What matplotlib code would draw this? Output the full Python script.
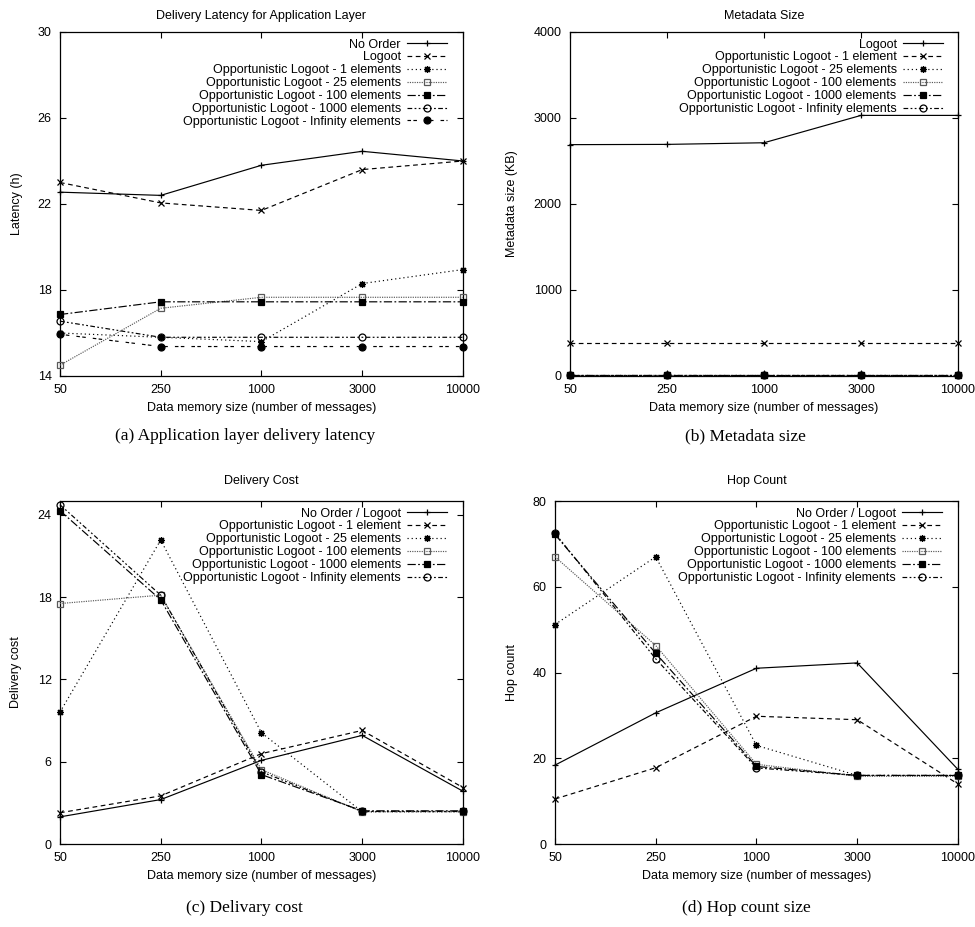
import matplotlib.pyplot as plt

plt.rcParams['font.family'] = ['Liberation Sans', 'DejaVu Sans']
plt.rcParams['font.size'] = 9

memory_sizes = ['50', '250', '1000', '3000', '10000']

# (a) delivery latency, hours
lat_labels = ['No Order', 'Logoot',
              'Opportunistic Logoot - 1 elements',
              'Opportunistic Logoot - 25 elements',
              'Opportunistic Logoot - 100 elements',
              'Opportunistic Logoot - 1000 elements',
              'Opportunistic Logoot - Infinity elements']
lat_no_order = [22.55, 22.4, 23.8, 24.45, 24.0]
lat_logoot = [23.0, 22.05, 21.7, 23.6, 24.0]
lat_ol_1 = [16.0, 15.8, 15.6, 18.3, 18.95]
lat_ol_25 = [14.5, 17.15, 17.66, 17.66, 17.66]
lat_ol_100 = [16.86, 17.45, 17.45, 17.45, 17.45]
lat_ol_1000 = [16.55, 15.8, 15.8, 15.8, 15.8]
lat_ol_inf = [15.94, 15.37, 15.37, 15.37, 15.37]

# (b) metadata size, KB
meta_labels = ['Logoot',
               'Opportunistic Logoot - 1 element',
               'Opportunistic Logoot - 25 elements',
               'Opportunistic Logoot - 100 elements',
               'Opportunistic Logoot - 1000 elements',
               'Opportunistic Logoot - Infinity elements']
meta_logoot = [2690, 2693, 2712, 3030, 3030]
meta_ol_1 = [380, 380, 380, 380, 380]
meta_ol_25 = [8, 8, 8, 8, 8]
meta_ol_100 = [12, 12, 12, 12, 12]
meta_ol_1000 = [16, 16, 16, 16, 16]
meta_ol_inf = [14, 14, 14, 14, 14]

# (c) delivery cost
other_labels = ['No Order / Logoot',
                'Opportunistic Logoot - 1 element',
                'Opportunistic Logoot - 25 elements',
                'Opportunistic Logoot - 100 elements',
                'Opportunistic Logoot - 1000 elements',
                'Opportunistic Logoot - Infinity elements']
cost_logoot = [1.98, 3.24, 6.1, 7.92, 3.85]
cost_ol_1 = [2.28, 3.51, 6.59, 8.28, 4.12]
cost_ol_25 = [9.61, 22.16, 8.11, 2.35, 2.35]
cost_ol_100 = [17.53, 18.14, 5.42, 2.35, 2.35]
cost_ol_1000 = [24.3, 17.8, 5.06, 2.42, 2.42]
cost_ol_inf = [24.73, 18.14, 5.26, 2.38, 2.38]

# (d) hop count
hop_logoot = [18.4, 30.6, 41.0, 42.25, 17.4]
hop_ol_1 = [10.5, 17.8, 29.8, 29.0, 14.0]
hop_ol_25 = [51.2, 67.0, 23.0, 16.0, 16.0]
hop_ol_100 = [67.0, 46.3, 18.6, 15.8, 15.8]
hop_ol_1000 = [72.2, 44.5, 18.1, 16.0, 16.0]
hop_ol_inf = [72.5, 43.2, 17.75, 16.0, 16.0]

# gnuplot-like line types: (linestyle, marker, filled, colour)
styles = [
    ('-', '+', True, 'black'),
    ((0, (4, 3)), 'x', True, 'black'),
    ((0, (1, 2.5)), (8, 2, 0), True, 'black'),
    ((0, (1, 1)), 's', False, '0.35'),
    ((0, (7, 2, 1.5, 2)), 's', True, 'black'),
    ((0, (4, 2, 1.5, 2, 1.5, 2)), 'o', False, 'black'),
    ((0, (3, 2, 3, 6)), 'o', True, 'black'),
]

fig = plt.figure(figsize=(9.75, 9.27), dpi=100)

panels = [
    ([0.0615, 0.5944, 0.4133, 0.3711], 'Delivery Latency for Application Layer', 'Latency (h)',
     lat_labels, [lat_no_order, lat_logoot, lat_ol_1, lat_ol_25, lat_ol_100, lat_ol_1000, lat_ol_inf],
     (14, 30), [14, 18, 22, 26, 30], -0.092, 9),
    ([0.5846, 0.5944, 0.398, 0.3711], 'Metadata Size', 'Metadata size (KB)',
     meta_labels, [meta_logoot, meta_ol_1, meta_ol_25, meta_ol_100, meta_ol_1000, meta_ol_inf],
     (0, 4000), [0, 1000, 2000, 3000, 4000], -0.134, 9),
    ([0.0615, 0.0895, 0.4133, 0.370], 'Delivery Cost', 'Delivery cost',
     other_labels, [cost_logoot, cost_ol_1, cost_ol_25, cost_ol_100, cost_ol_1000, cost_ol_inf],
     (0, 25), [0, 6, 12, 18, 24], -0.094, 12),
    ([0.5692, 0.0895, 0.4133, 0.370], 'Hop Count', 'Hop count',
     other_labels, [hop_logoot, hop_ol_1, hop_ol_25, hop_ol_100, hop_ol_1000, hop_ol_inf],
     (0, 80), [0, 20, 40, 60, 80], -0.092, 12),
]

x = list(range(len(memory_sizes)))
for rect, title, ylabel, labels, series, ylim, yticks, ylab_x, tpad in panels:
    ax = fig.add_axes(rect)
    for i, (label, values) in enumerate(zip(labels, series)):
        ls, mk, filled, col = styles[i]
        ax.plot(x, values, linestyle=ls, marker=mk, color=col, lw=0.85,
                markersize=5, markeredgewidth=0.9,
                markerfacecolor=col if filled else 'none',
                markeredgecolor=col, label=label, clip_on=False, zorder=3)
    ax.set_xlim(0, 4)
    ax.set_ylim(*ylim)
    ax.set_xticks(x)
    ax.set_xticklabels(memory_sizes)
    ax.set_yticks(yticks)
    ax.tick_params(direction='in', top=True, right=True, length=4, width=0.8, pad=6)
    for sp in ax.spines.values():
        sp.set_linewidth(0.9)
    ax.set_title(title, pad=tpad, fontsize=9)
    ax.set_xlabel('Data memory size (number of messages)', labelpad=4)
    ax.set_ylabel(ylabel)
    ax.yaxis.set_label_coords(ylab_x, 0.5)
    ax.legend(loc='upper right', bbox_to_anchor=(0.961, 0.981), frameon=False,
              markerfirst=False, borderpad=0, borderaxespad=0, labelspacing=0.07,
              handlelength=3.2, handletextpad=0.5, numpoints=1, fontsize=9)

cap_font = {'family': 'Liberation Serif', 'size': 12.5}
fig.text(0.251, 0.5297, '(a) Application layer delivery latency', ha='center', va='center', fontdict=cap_font)
fig.text(0.765, 0.5297, '(b) Metadata size', ha='center', va='center', fontdict=cap_font)
fig.text(0.251, 0.0205, '(c) Delivary cost', ha='center', va='center', fontdict=cap_font)
fig.text(0.765, 0.0205, '(d) Hop count size', ha='center', va='center', fontdict=cap_font)

fig.savefig('out.png', dpi=100)
